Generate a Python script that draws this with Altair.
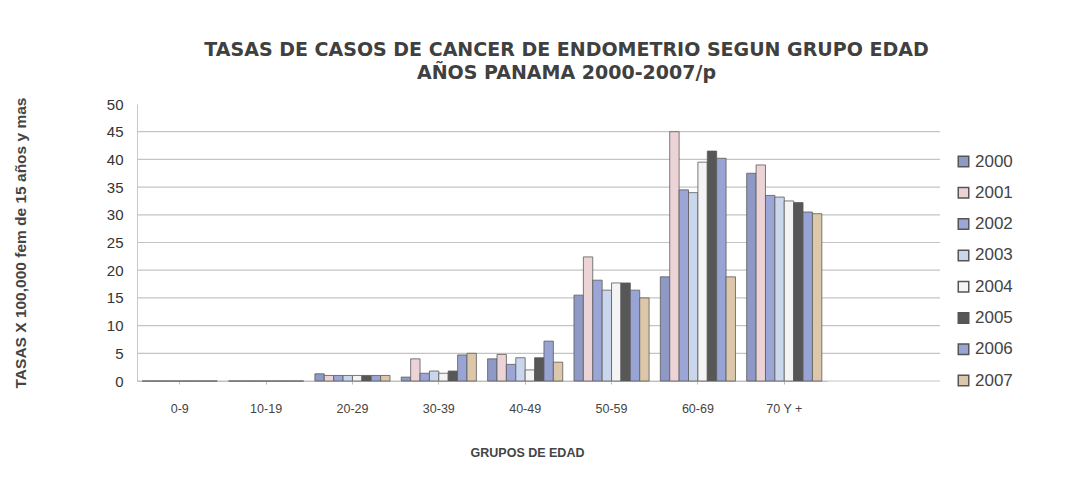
import altair as alt
import pandas as pd

grupos = ["0-9", "10-19", "20-29", "30-39", "40-49", "50-59", "60-69", "70 Y +"]
anios = ["2000", "2001", "2002", "2003", "2004", "2005", "2006", "2007"]
ticks_y = [0, 5, 10, 15, 20, 25, 30, 35, 40, 45, 50]
grid_y = [0, 5, 10, 15, 20, 25, 30, 35, 40, 45]

t2000 = [0, 0, 1.3, 0.7, 4.0, 15.5, 18.8, 37.5]
t2001 = [0, 0, 1.0, 4.0, 4.8, 22.4, 45.0, 39.0]
t2002 = [0, 0, 1.0, 1.4, 3.0, 18.2, 34.5, 33.5]
t2003 = [0, 0, 1.0, 1.8, 4.2, 16.4, 34.0, 33.2]
t2004 = [0, 0, 1.0, 1.4, 2.0, 17.7, 39.5, 32.5]
t2005 = [0, 0, 1.0, 1.8, 4.2, 17.7, 41.5, 32.2]
t2006 = [0, 0, 1.0, 4.7, 7.2, 16.4, 40.2, 30.5]
t2007 = [0, 0, 1.0, 5.0, 3.4, 15.0, 18.8, 30.2]
series = [t2000, t2001, t2002, t2003, t2004, t2005, t2006, t2007]

colores = ["#8e99c6", "#ecd3d6", "#9ca6d6", "#c9d6ec", "#f4f4f4", "#575757", "#98a4d4", "#dcc7aa"]

rows = []
for a, vals in zip(anios, series):
    for g, v in zip(grupos, vals):
        rows.append({"grupo": g, "anio": a, "tasa": v})
df = pd.DataFrame(rows)
df_grid = pd.DataFrame({"tasa": grid_y})

W, H = 803, 277

yscale = alt.Scale(domain=[0, 50], nice=False)
yaxis = alt.Axis(title="TASAS X 100,000 fem de 15 años y mas", values=ticks_y,
                 labelFontSize=15, labelColor="#333", labelPadding=14, ticks=False,
                 grid=False, domainColor="#c8c8c8", labelOverlap=False,
                 titleFontSize=15.5, titleFontWeight="bold", titleColor="#444",
                 titlePadding=78, labelFont="Liberation Sans",
                 titleFont="Liberation Sans")

grid = alt.Chart(df_grid).mark_rule(color="#c4c4c4", strokeWidth=1.2).encode(
    y=alt.Y("tasa:Q", scale=yscale, axis=yaxis),
    x=alt.value(0), x2=alt.value(W),
)

bars = alt.Chart(df).mark_bar(stroke="#5a5a5a", strokeWidth=0.8).encode(
    x=alt.X("grupo:N", sort=grupos,
            scale=alt.Scale(domain=grupos, range=[0, 690], paddingInner=0.13, paddingOuter=0.06),
            axis=alt.Axis(title="GRUPOS DE EDAD", labelAngle=0, labelFontSize=12.5,
                          labelColor="#444", labelPadding=18, tickSize=3, tickColor="#bbb",
                          domainColor="#bbb", titleFontSize=12.5, titleFontWeight="bold",
                          titleColor="#444", titleX=390, titleY=71, titleBaseline="middle",
                          labelFont="Liberation Sans", titleFont="Liberation Sans")),
    xOffset=alt.XOffset("anio:N", sort=anios),
    y=alt.Y("tasa:Q", scale=yscale, axis=yaxis),
    color=alt.Color("anio:N", sort=anios,
                    scale=alt.Scale(domain=anios, range=colores),
                    legend=alt.Legend(title=None, orient="none", legendX=818, legendY=49,
                                      symbolType="square", symbolSize=110,
                                      symbolStrokeColor="#555", symbolStrokeWidth=1.5,
                                      labelFontSize=17, labelColor="#444",
                                      labelFont="Liberation Sans", rowPadding=13.3,
                                      labelOffset=3)),
)

chart = alt.layer(grid, bars).properties(
    width=W, height=H,
    background="white",
    title=alt.TitleParams(
        text=["TASAS DE CASOS DE CANCER DE ENDOMETRIO SEGUN GRUPO EDAD",
              "AÑOS  PANAMA 2000-2007/p"],
        font="DejaVu Sans", fontSize=19, fontWeight="bold", color="#404040",
        anchor="middle", dx=28, offset=14, lineHeight=23),
    autosize=alt.AutoSizeParams(type="none"),
    padding={"left": 129, "top": 96, "right": 128, "bottom": 92},
).configure_view(stroke=None)

chart.save("out.html", embed_options={"renderer": "svg", "actions": False})
